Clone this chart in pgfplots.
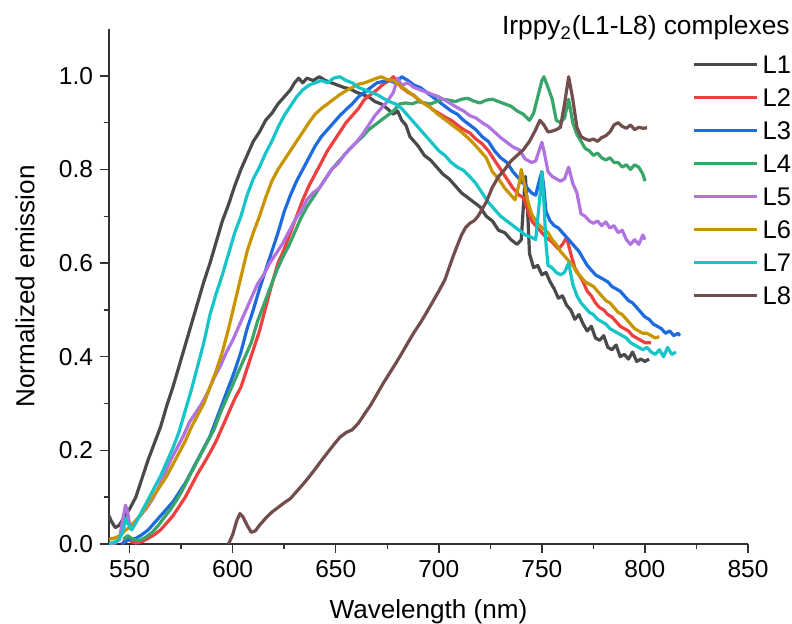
\documentclass[border=0pt]{standalone}
\usepackage{fontspec}
\setmainfont{Liberation Sans}
\usepackage{pgfplots}
\pgfplotsset{compat=1.18}

\definecolor{cL1}{HTML}{4A4A4A}
\definecolor{cL2}{HTML}{EF4040}
\definecolor{cL3}{HTML}{1E6BE0}
\definecolor{cL4}{HTML}{38A569}
\definecolor{cL5}{HTML}{B073E0}
\definecolor{cL6}{HTML}{C89500}
\definecolor{cL7}{HTML}{17C5C8}
\definecolor{cL8}{HTML}{734C4C}
\definecolor{axgray}{HTML}{333333}

\begin{document}
\begin{tikzpicture}
\begin{axis}[
  name=ax,
  scale only axis,
  width=319.5bp, height=257.5bp,
  xmin=540, xmax=850, ymin=0, ymax=1.1,
  xtick={550,600,...,850}, ytick={0,0.2,...,1.0},
  minor x tick num=1, minor y tick num=1,
  axis x line*=bottom, axis y line*=left,
  axis line style={axgray, line width=0.75bp},
  every tick/.style={axgray, line width=0.75bp},
  tick align=outside,
  major tick length=4.5bp, minor tick length=2.5bp,
  /pgf/number format/assume math mode=true,
  ticklabel style={font=\fontsize{12.3}{14}\selectfont, text=black},
  yticklabel style={/pgf/number format/fixed, /pgf/number format/fixed zerofill, /pgf/number format/precision=1},
  xticklabel style={/pgf/number format/1000 sep={}},
  xlabel={Wavelength (nm)},
  ylabel={Normalized emission},
  label style={font=\fontsize{13.1}{15}\selectfont},
  xlabel style={at={(axis description cs:0.5,-0.1437)}, anchor=base},
  ylabel style={at={(axis description cs:-0.1315,0.5)}, anchor=center},
  every axis plot/.append style={line width=1.6bp, line join=round},
  legend image code/.code={\draw[#1, line width=1.6bp] (0bp,0bp) -- (31.5bp,0bp);},
  legend style={at={(rel axis cs:0.9124,0.9500)}, anchor=north west,
    draw=none, fill=none, inner sep=0pt, row sep=7.3bp, column sep=2bp,
    font=\fontsize{12.8}{14}\selectfont,
    nodes={inner sep=0pt, text height=9.2bp, text depth=0pt}},
  legend cell align=left,
]
\addplot[cL1] table {
540 0.060
541 0.050
543 0.035
545 0.040
547 0.055
550 0.075
553 0.100
556 0.140
559 0.180
562 0.215
565 0.250
568 0.295
571 0.335
574 0.380
577 0.425
580 0.470
583 0.515
586 0.560
589 0.600
592 0.645
595 0.690
598 0.725
601 0.765
604 0.800
607 0.830
610 0.860
613 0.880
616 0.905
619 0.920
622 0.940
625 0.955
628 0.970
630 0.985
632 0.995
634 0.985
636 0.995
639 0.990
642 0.998
645 0.990
648 0.985
651 0.980
654 0.975
657 0.972
660 0.965
663 0.960
666 0.955
669 0.945
672 0.940
675 0.930
678 0.918
680 0.925
682 0.905
684 0.895
686 0.870
688 0.860
690 0.850
693 0.830
696 0.820
699 0.805
702 0.790
705 0.780
708 0.765
711 0.750
714 0.740
717 0.730
720 0.720
723 0.700
726 0.690
729 0.670
732 0.665
735 0.650
738 0.640
740 0.650
741 0.720
742 0.785
743 0.720
744 0.620
746 0.590
748 0.595
750 0.575
752 0.580
754 0.560
756 0.545
758 0.525
760 0.530
762 0.510
764 0.500
766 0.480
768 0.490
770 0.470
772 0.455
774 0.465
776 0.440
778 0.435
780 0.445
782 0.420
784 0.415
786 0.425
788 0.400
790 0.405
792 0.395
794 0.410
796 0.390
798 0.395
800 0.390
802 0.395
};
\addlegendentry{L1}
\addplot[cL2] table {
547 0.005
549 0.015
551 0.005
553 0.002
556 0.005
559 0.012
562 0.020
565 0.030
568 0.045
571 0.060
574 0.080
577 0.100
580 0.125
583 0.150
586 0.172
589 0.195
592 0.220
595 0.250
598 0.280
601 0.310
604 0.335
607 0.375
610 0.415
613 0.455
616 0.505
619 0.555
622 0.600
625 0.630
628 0.665
631 0.700
634 0.735
637 0.765
640 0.790
643 0.815
646 0.840
649 0.860
652 0.880
655 0.900
658 0.915
661 0.930
664 0.950
667 0.960
670 0.970
673 0.982
676 0.990
678 0.998
680 0.985
682 0.975
685 0.965
688 0.958
691 0.945
694 0.940
697 0.928
700 0.920
703 0.912
706 0.905
709 0.895
712 0.885
715 0.878
718 0.865
721 0.855
724 0.840
727 0.820
730 0.800
733 0.780
736 0.760
739 0.745
741 0.740
743 0.715
745 0.690
748 0.675
750 0.665
752 0.655
755 0.645
758 0.630
760 0.640
762 0.655
764 0.620
766 0.590
768 0.575
770 0.560
772 0.540
774 0.530
776 0.515
778 0.505
780 0.500
782 0.490
784 0.485
786 0.475
788 0.465
790 0.460
792 0.455
794 0.445
796 0.440
798 0.435
800 0.430
803 0.430
};
\addlegendentry{L2}
\addplot[cL3] table {
546 0.000
548 0.005
550 0.010
553 0.012
556 0.020
559 0.030
562 0.045
565 0.060
568 0.075
571 0.090
574 0.110
577 0.130
580 0.155
583 0.180
586 0.205
589 0.230
592 0.265
595 0.300
598 0.335
601 0.370
604 0.410
607 0.460
610 0.500
613 0.545
616 0.585
619 0.625
622 0.665
625 0.710
628 0.745
631 0.775
634 0.800
637 0.825
640 0.850
643 0.870
646 0.885
649 0.900
652 0.915
655 0.928
658 0.940
661 0.955
664 0.965
667 0.975
670 0.985
673 0.988
676 0.990
679 0.985
682 0.998
685 0.990
688 0.980
691 0.975
694 0.965
697 0.955
700 0.945
703 0.935
706 0.925
709 0.918
712 0.905
715 0.895
718 0.885
721 0.870
724 0.860
727 0.840
730 0.825
733 0.815
736 0.795
739 0.780
742 0.765
745 0.750
747 0.745
749 0.780
750 0.795
751 0.760
752 0.710
754 0.690
756 0.680
758 0.675
760 0.665
762 0.655
764 0.645
766 0.635
768 0.625
770 0.610
772 0.595
774 0.585
776 0.575
778 0.570
780 0.565
782 0.560
784 0.550
786 0.545
788 0.540
790 0.530
792 0.520
794 0.515
796 0.505
798 0.495
800 0.485
802 0.480
804 0.470
806 0.465
808 0.460
810 0.450
812 0.455
814 0.445
816 0.450
817 0.445
};
\addlegendentry{L3}
\addplot[cL4] table {
547 0.010
549 0.018
551 0.012
553 0.008
555 0.008
558 0.015
561 0.025
564 0.040
567 0.058
570 0.075
573 0.095
576 0.118
579 0.145
582 0.170
585 0.195
588 0.220
591 0.245
594 0.280
597 0.310
600 0.340
603 0.370
606 0.400
609 0.430
612 0.475
615 0.510
618 0.545
621 0.580
624 0.610
627 0.635
630 0.665
633 0.695
636 0.720
639 0.740
642 0.760
645 0.780
648 0.800
651 0.815
654 0.830
657 0.845
660 0.858
663 0.870
666 0.885
669 0.895
672 0.905
675 0.915
678 0.925
681 0.940
684 0.942
687 0.940
690 0.945
693 0.942
696 0.940
699 0.945
702 0.950
705 0.948
708 0.945
711 0.950
714 0.952
717 0.946
720 0.942
723 0.948
726 0.950
729 0.945
732 0.940
735 0.935
738 0.925
741 0.918
744 0.905
746 0.920
748 0.955
750 0.990
751 0.998
753 0.975
755 0.950
757 0.905
759 0.900
761 0.910
763 0.950
765 0.900
767 0.875
769 0.860
771 0.845
773 0.840
775 0.830
777 0.835
779 0.825
781 0.820
783 0.825
785 0.815
787 0.815
789 0.805
791 0.810
793 0.800
795 0.810
797 0.805
799 0.790
800 0.775
};
\addlegendentry{L4}
\addplot[cL5] table {
540 0.000
543 0.002
545 0.010
547 0.060
548 0.083
549 0.070
550 0.040
552 0.045
555 0.060
558 0.075
561 0.095
564 0.120
567 0.150
570 0.180
573 0.205
576 0.230
579 0.260
582 0.280
585 0.300
588 0.325
591 0.355
594 0.380
597 0.410
600 0.435
603 0.465
606 0.495
609 0.525
612 0.555
615 0.575
618 0.600
621 0.620
624 0.640
627 0.665
630 0.690
633 0.710
636 0.735
639 0.750
642 0.760
645 0.780
648 0.800
651 0.812
654 0.830
657 0.845
660 0.858
663 0.875
666 0.895
669 0.915
672 0.930
675 0.945
678 0.965
680 0.995
682 0.980
685 0.985
688 0.975
691 0.970
694 0.965
697 0.960
700 0.955
703 0.948
706 0.940
709 0.932
712 0.925
715 0.915
718 0.910
721 0.900
724 0.892
727 0.880
730 0.868
733 0.858
736 0.848
739 0.842
742 0.822
745 0.815
747 0.818
749 0.845
750 0.858
751 0.840
753 0.795
755 0.785
757 0.780
759 0.775
761 0.780
763 0.805
765 0.770
767 0.750
769 0.705
771 0.700
773 0.690
775 0.685
777 0.690
779 0.680
781 0.688
783 0.675
785 0.680
787 0.665
789 0.670
791 0.650
793 0.640
795 0.650
797 0.640
799 0.660
800 0.650
};
\addlegendentry{L5}
\addplot[cL6] table {
540 0.010
542 0.012
544 0.015
546 0.020
548 0.030
550 0.035
553 0.050
556 0.065
559 0.085
562 0.105
565 0.125
568 0.145
571 0.170
574 0.195
577 0.220
580 0.250
583 0.275
586 0.300
589 0.335
592 0.370
595 0.410
598 0.460
601 0.515
604 0.570
607 0.625
610 0.665
613 0.700
616 0.740
619 0.775
622 0.800
625 0.820
628 0.840
631 0.860
634 0.880
637 0.900
640 0.918
643 0.930
646 0.940
649 0.950
652 0.960
655 0.968
658 0.975
661 0.982
664 0.985
667 0.990
670 0.995
672 0.998
675 0.992
678 0.990
681 0.980
684 0.970
687 0.960
690 0.950
693 0.940
696 0.932
699 0.920
702 0.910
705 0.900
708 0.890
711 0.880
714 0.868
717 0.855
720 0.840
723 0.825
726 0.795
729 0.780
732 0.760
735 0.745
737 0.735
739 0.770
740 0.800
741 0.780
743 0.735
745 0.705
747 0.690
749 0.680
751 0.672
753 0.665
755 0.650
757 0.640
759 0.625
761 0.615
763 0.605
765 0.595
767 0.580
769 0.570
771 0.560
773 0.555
775 0.550
777 0.540
779 0.530
781 0.520
783 0.515
785 0.505
787 0.495
789 0.490
791 0.480
793 0.470
795 0.460
797 0.455
799 0.450
801 0.450
803 0.445
805 0.440
807 0.443
};
\addlegendentry{L6}
\addplot[cL7] table {
540 0.000
543 0.005
545 0.010
547 0.030
548 0.055
549 0.045
551 0.030
553 0.045
556 0.070
559 0.095
562 0.120
565 0.145
568 0.175
571 0.205
574 0.240
577 0.285
580 0.330
583 0.380
586 0.430
589 0.490
592 0.535
595 0.575
598 0.620
601 0.665
604 0.700
607 0.745
610 0.780
613 0.805
616 0.835
619 0.860
622 0.890
625 0.915
628 0.935
631 0.955
634 0.970
637 0.980
640 0.985
643 0.990
646 0.985
649 0.995
652 0.998
655 0.990
658 0.985
661 0.975
664 0.970
667 0.965
670 0.960
673 0.952
676 0.945
679 0.940
682 0.930
685 0.915
688 0.900
691 0.885
694 0.870
697 0.855
700 0.840
703 0.830
706 0.815
709 0.805
712 0.798
715 0.785
718 0.770
721 0.750
724 0.730
727 0.715
730 0.700
733 0.690
736 0.680
739 0.670
742 0.660
745 0.655
747 0.650
749 0.740
750 0.795
751 0.730
752 0.640
753 0.595
755 0.590
757 0.580
759 0.575
761 0.580
763 0.600
765 0.555
767 0.530
769 0.515
771 0.505
773 0.495
775 0.490
777 0.480
779 0.475
781 0.470
783 0.460
785 0.455
787 0.450
789 0.445
791 0.440
793 0.430
795 0.425
797 0.420
799 0.415
801 0.420
803 0.410
805 0.405
807 0.415
809 0.400
811 0.420
813 0.405
815 0.410
};
\addlegendentry{L7}
\addplot[cL8] table {
598 0.000
600 0.020
602 0.050
603.5 0.065
605 0.058
607 0.040
609 0.025
611 0.028
613 0.040
616 0.055
619 0.068
622 0.078
625 0.088
628 0.097
631 0.112
634 0.127
637 0.143
640 0.160
643 0.178
646 0.195
649 0.212
652 0.228
655 0.238
658 0.244
661 0.258
664 0.278
667 0.297
670 0.320
673 0.343
676 0.364
679 0.385
682 0.407
685 0.430
688 0.452
691 0.472
694 0.494
697 0.517
700 0.540
703 0.565
705 0.590
707 0.615
709 0.638
711 0.660
713 0.676
715 0.685
717 0.690
719 0.700
721 0.715
723 0.730
726 0.762
729 0.785
732 0.800
735 0.818
738 0.830
741 0.842
744 0.860
747 0.885
749 0.905
751 0.895
753 0.880
755 0.882
757 0.885
759 0.890
761 0.940
763 0.998
765 0.950
767 0.890
769 0.870
771 0.865
773 0.862
775 0.865
777 0.860
779 0.868
781 0.872
783 0.880
785 0.895
787 0.900
789 0.892
791 0.888
793 0.895
795 0.885
797 0.890
799 0.888
801 0.889
};
\addlegendentry{L8}
\coordinate (O) at (rel axis cs:0,0);
\coordinate (T) at (rel axis cs:1.0657,0.9884);
\end{axis}
\node[anchor=base east, inner sep=0pt, font=\fontsize{13.2}{15}\selectfont]
  at (T) {Irppy\textsubscript{2}(L1-L8) complexes};
\pgfresetboundingbox
\path[use as bounding box] (O) ++(-54.5bp,-40bp) rectangle ++(396bp,312bp);
\end{tikzpicture}
\end{document}
